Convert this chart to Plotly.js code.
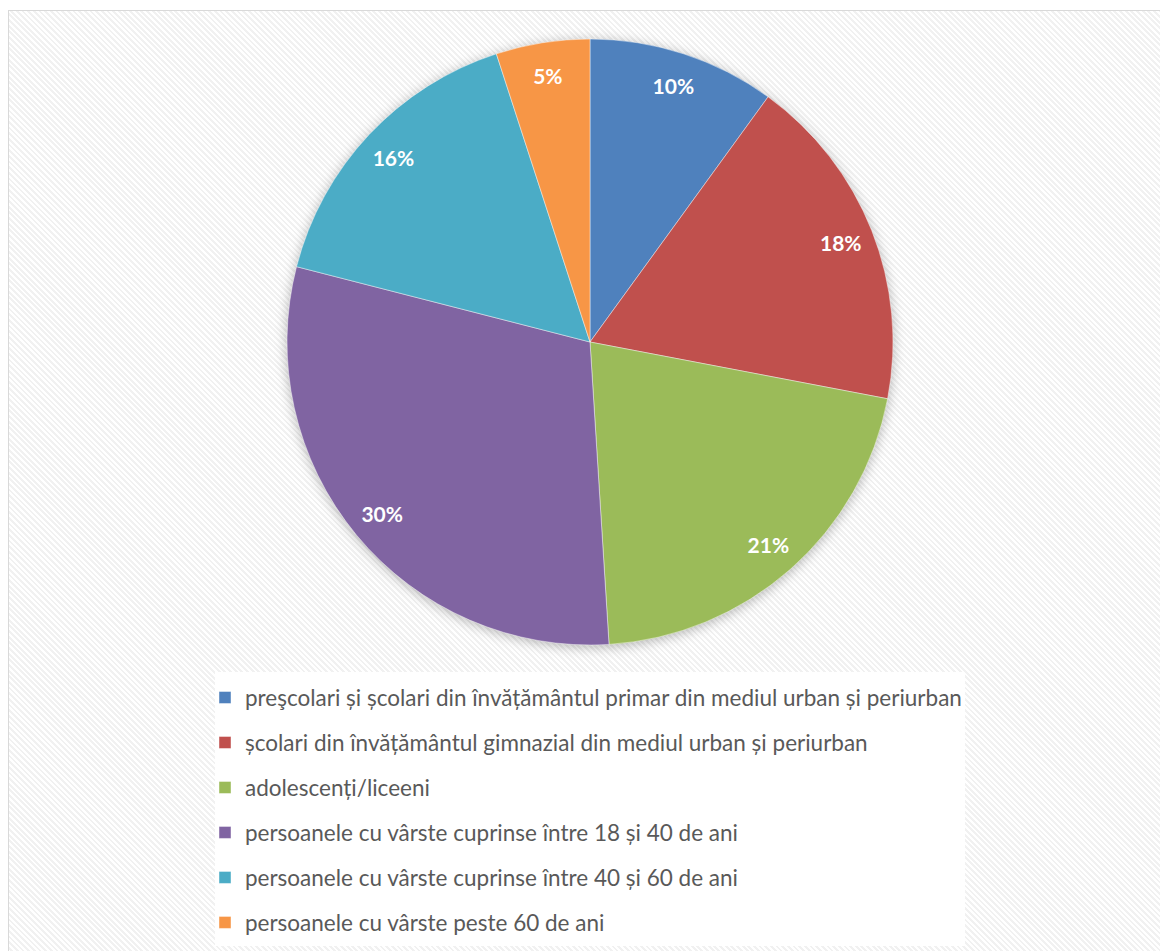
<!DOCTYPE html>
<html>
<head>
<meta charset="utf-8">
<script src="https://cdn.plot.ly/plotly-3.0.1.min.js"></script>
<style>
  html, body { margin: 0; padding: 0; width: 1160px; height: 951px; overflow: hidden; background: #ffffff; }
  #frame {
    position: absolute; left: 8px; top: 10px; width: 1170px; height: 960px;
    border: 1px solid #d9d9d9; box-sizing: border-box;
    background: repeating-linear-gradient(45deg, #ffffff 0px, #ffffff 2px, #f1f1f1 2px, #f1f1f1 4px);
  }
  #chart { position: absolute; left: 0; top: 0; width: 1160px; height: 951px; }
  #chart .pielayer .trace:first-child { filter: drop-shadow(0px 2px 6px rgba(0,0,0,0.28)); }
  #chart .legendtext { transform: translateY(-4px); }
</style>
</head>
<body>
<div id="frame"></div>
<div id="chart"></div>
<script>
const categories = [
  "preşcolari și școlari din învățământul primar din mediul urban și periurban",
  "școlari din învățământul gimnazial din mediul urban și periurban",
  "adolescenți/liceeni",
  "persoanele cu vârste cuprinse între 18 și 40 de ani",
  "persoanele cu vârste cuprinse între 40 și 60 de ani",
  "persoanele cu vârste peste 60 de ani"
];
const shares = [10, 18, 21, 30, 16, 5];
const sliceColors = ["#4F81BD", "#C0504D", "#9BBB59", "#8064A2", "#4BACC6", "#F79646"];

const W = 1160, H = 951;
const cx = 590, cy = 342, R = 303;
const pieDomain = {
  x: [(cx - R) / W, (cx + R) / W],
  y: [(H - cy - R) / H, (H - cy + R) / H]
};
const legendTextSize = 22.5;

// main pie: slices + legend
const pieTrace = {
  type: "pie",
  labels: categories.map(c => `<span style="font-size:${legendTextSize}px">${c}</span>`),
  values: shares,
  sort: false,
  direction: "clockwise",
  rotation: 0,
  marker: { colors: sliceColors, line: { color: "rgba(255,255,255,0.55)", width: 0.8 } },
  textposition: "none",
  hoverinfo: "label+percent",
  domain: pieDomain,
  showlegend: true
};

// transparent ring over the outer part of the pie, only to carry the percent labels
const labelTrace = {
  type: "pie",
  labels: categories,
  values: shares,
  sort: false,
  direction: "clockwise",
  rotation: 0,
  hole: 0.78,
  marker: { colors: sliceColors.map(() => "rgba(0,0,0,0)"), line: { width: 0 } },
  texttemplate: "<b>%{percent:.0%}</b>",
  textposition: "inside",
  insidetextorientation: "horizontal",
  textfont: { family: "Lato, 'Open Sans', sans-serif", size: 21, color: "#ffffff" },
  hoverinfo: "skip",
  domain: pieDomain,
  showlegend: false
};

const layout = {
  width: W, height: H,
  margin: { l: 0, r: 0, t: 0, b: 0, pad: 0 },
  paper_bgcolor: "rgba(0,0,0,0)",
  plot_bgcolor: "rgba(0,0,0,0)",
  showlegend: true,
  uniformtext: { mode: false },
  shapes: [{
    type: "rect", xref: "paper", yref: "paper", layer: "below",
    x0: 215 / W, x1: 965 / W, y0: (H - 946) / H, y1: (H - 672) / H,
    fillcolor: "#ffffff", line: { width: 0 }
  }],
  legend: {
    x: 205 / W, xanchor: "left",
    y: (H - 670) / H, yanchor: "top",
    bgcolor: "rgba(0,0,0,0)",
    borderwidth: 0,
    orientation: "v",
    itemclick: false,
    font: { family: "Lato, 'Open Sans', sans-serif", size: 32.3, color: "#595959" }
  }
};

Plotly.newPlot("chart", [pieTrace, labelTrace], layout, { displayModeBar: false, staticPlot: true });
</script>
</body>
</html>
